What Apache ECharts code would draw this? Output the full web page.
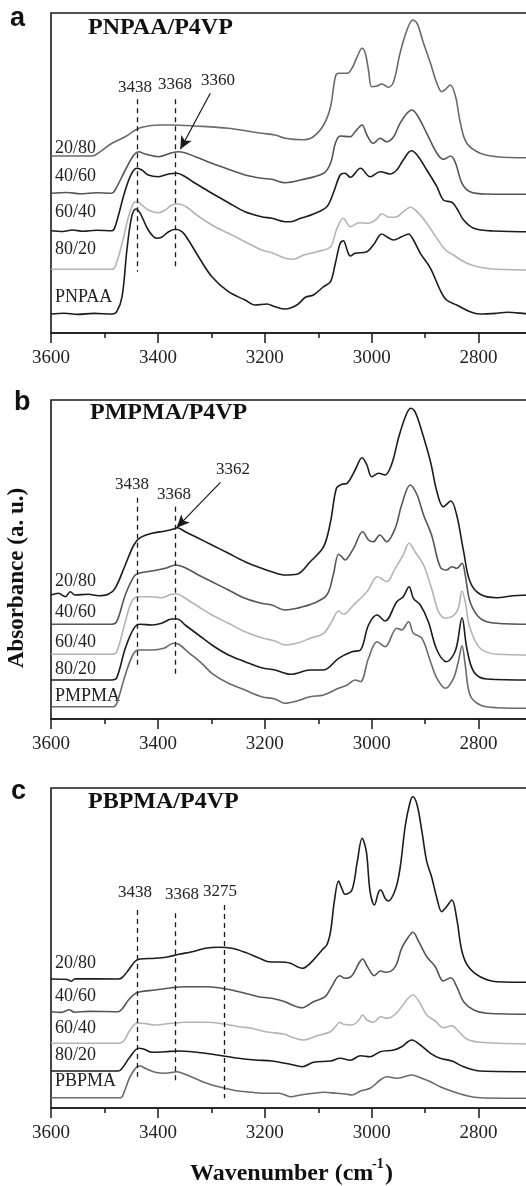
<!DOCTYPE html>
<html>
<head>
<meta charset="utf-8">
<script src="https://cdn.jsdelivr.net/npm/echarts@6/dist/echarts.min.js"></script>
<style>
  html, body { margin: 0; padding: 0; background: #fff; overflow: hidden; }
  /* the plot frames run past the right edge of the page, so the canvas is wider than the view */
  #chart { width: 600px; height: 1186px; }
</style>
</head>
<body>
<div id="chart"></div>
<script>
// FTIR spectra in the O-H / C-H stretching region, three blend systems.
// Each curve: [wavenumber (cm-1), absorbance (a.u., with vertical offset)].

const xTickLabels = [3600, 3400, 3200, 3000, 2800];

// ---- (a) PNPAA/P4VP ----
const a2080 = [[3600,177],[3524,177],[3517,178],[3486,189.7],[3461,196.3],[3442,203],[3430,205.7],[3399,208],[3374,208],[3330,207],[3268,204.7],[3206,199.7],[3181,198],[3162,194.7],[3130,193.2],[3110,196],[3090,208],[3077,226.3],[3068,256.3],[3062,259.7],[3046,259.7],[3037,264.7],[3027,276.3],[3018,284.7],[3012,279.7],[3006,263],[3000,246.3],[2990,247],[2981,249],[2969,245.7],[2959,251.3],[2947,279.7],[2934,303],[2923,313],[2915,309.7],[2903,289.7],[2890,269.7],[2878,249.7],[2869,241.3],[2862,243.7],[2853,248],[2843,236.3],[2834,209.7],[2822,189.7],[2797,179.7],[2766,176.3],[2711,175.3],[2650,175.3]];
const a4060 = [[3600,139.7],[3570,140.5],[3545,139.2],[3515,140.3],[3486,139.7],[3480,143],[3461,163],[3445,178],[3436,181.3],[3424,179],[3399,176.3],[3374,180.3],[3361,181.3],[3330,176.3],[3299,169.7],[3268,163.7],[3237,158],[3206,154.7],[3187,153.7],[3162,150.3],[3133,153],[3090,159.7],[3077,169.7],[3068,189.7],[3059,197],[3040,196.3],[3031,201.3],[3018,208],[3009,198],[2997,189.7],[2984,194.7],[2972,191.3],[2959,196.3],[2947,209.7],[2934,219.7],[2925,223],[2915,218],[2897,199.7],[2878,179.7],[2866,173.7],[2852,177],[2843,169.7],[2831,149.7],[2816,141.3],[2785,139],[2700,138.7],[2650,138.7]];
const a6040 = [[3600,102.3],[3578,101.5],[3560,103],[3540,101.8],[3515,102.8],[3486,102.3],[3480,106.3],[3461,143],[3449,159.7],[3439,164.7],[3430,163],[3418,158],[3399,156.3],[3380,159],[3364,159.7],[3349,156.3],[3330,149.7],[3299,139.7],[3268,130.3],[3237,121.3],[3206,116.3],[3187,114.7],[3162,111.3],[3152,111.3],[3133,114.7],[3109,119],[3084,126.3],[3072,139.7],[3059,158],[3050,159.7],[3040,155.7],[3021,164.7],[3003,156.3],[2984,161.3],[2966,159],[2953,163],[2941,173],[2926,182.3],[2915,178],[2897,163],[2878,146.3],[2866,133],[2850,130.7],[2841,124.7],[2828,113],[2809,104.7],[2772,102],[2700,101.3],[2650,101.3]];
const a8020 = [[3600,63.7],[3486,63.7],[3480,66.3],[3467,89.7],[3455,116.3],[3445,130.3],[3439,131.3],[3430,128],[3418,123],[3399,120.3],[3386,123],[3374,128],[3361,129],[3343,124.7],[3330,119],[3299,108],[3268,99.7],[3237,91.3],[3206,83],[3187,80.3],[3162,74.7],[3146,73.7],[3127,78],[3102,81.3],[3077,86.3],[3066,103],[3053,114.7],[3046,109.7],[3040,106.3],[3024,110.3],[3006,109.7],[2993,113],[2981,119],[2966,115.7],[2953,116.3],[2941,121.3],[2928,125.7],[2915,121.3],[2897,109.7],[2878,94.7],[2862,83],[2847,78],[2822,69.7],[2797,65.7],[2766,63.7],[2700,63],[2650,63]];
const aPNPAA = [[3600,19],[3575,19.8],[3550,18.6],[3520,19.6],[3486,19],[3477,21.3],[3467,36.3],[3458,83],[3449,116.3],[3441,124],[3433,119.7],[3418,103],[3402,94.7],[3393,95.7],[3380,101.3],[3367,103.7],[3355,101.3],[3343,93],[3324,76.3],[3299,56.3],[3268,41.3],[3237,33],[3218,28],[3196,29],[3181,26.3],[3162,24],[3140,28],[3124,35.7],[3109,38],[3090,46.3],[3077,51.3],[3068,69.7],[3059,89.7],[3053,92.3],[3046,83],[3040,77],[3031,79.7],[3009,81.3],[2997,88],[2981,99],[2972,96.3],[2959,93],[2944,96.3],[2931,99],[2922,93],[2909,79.7],[2890,64.7],[2872,43],[2860,33],[2841,28],[2816,21.3],[2797,19],[2766,19.7],[2747,20.7],[2700,19],[2650,19]];

// ---- (b) PMPMA/P4VP ----
const b2080 = [[3600,124],[3586,125.7],[3573,122.3],[3564,127.3],[3555,124],[3530,124.7],[3511,123.3],[3493,124.7],[3480,130.7],[3461,154],[3445,174],[3433,181.3],[3411,185.7],[3386,188],[3371,190],[3364,191.3],[3349,187.3],[3324,180.7],[3299,174],[3268,165.7],[3237,157.3],[3206,150.7],[3187,147.3],[3162,144],[3140,144.7],[3115,157.3],[3090,172.3],[3077,197.3],[3066,230.7],[3056,234.7],[3046,235.7],[3031,249],[3018,261.3],[3009,254],[3000,242.3],[2987,245.7],[2975,244],[2962,255.7],[2950,280.7],[2937,302.3],[2927,310.7],[2919,307.3],[2906,287.3],[2890,257.3],[2878,227.3],[2866,212.3],[2852,218],[2841,204],[2828,167.3],[2816,137.3],[2797,124.7],[2766,121.3],[2735,123.3],[2700,124],[2650,124]];
const b4060 = [[3600,94.7],[3486,94.7],[3477,97.3],[3461,124],[3445,142.3],[3436,145.7],[3411,148],[3386,150.7],[3367,154],[3349,151.3],[3324,144],[3299,137.3],[3268,129],[3237,120.7],[3206,115.7],[3187,114],[3162,109],[3140,110.7],[3109,115.7],[3084,124],[3072,144],[3062,164.7],[3056,162.3],[3050,159],[3034,170.7],[3017,187.3],[3006,179],[2997,177.3],[2985,184],[2972,177.3],[2956,190.7],[2944,214],[2928,234],[2915,224],[2903,204],[2888,184],[2872,152.3],[2860,149],[2850,152.3],[2841,150.7],[2831,155.7],[2825,144],[2816,117.3],[2797,100.7],[2766,95.7],[2700,94.7],[2650,94.7]];
const b6040 = [[3600,64.7],[3486,64.7],[3477,67.3],[3461,97.3],[3449,117.3],[3436,122.3],[3411,122.3],[3393,121.3],[3374,124.7],[3364,125],[3349,120.7],[3324,112.3],[3299,104],[3268,95.7],[3237,87.3],[3206,81.3],[3181,78],[3162,74],[3140,75.7],[3115,80.7],[3090,85.7],[3075,97.3],[3062,108],[3053,104.7],[3034,114],[3009,127.3],[2989,142.3],[2972,137.3],[2956,150.7],[2941,164],[2930,175.7],[2919,167.3],[2903,154],[2888,130.7],[2875,107.3],[2862,100.7],[2847,103.3],[2838,110.7],[2831,128],[2825,117.3],[2816,90.7],[2797,70.7],[2766,64.7],[2700,64],[2650,64]];
const b8020 = [[3600,39],[3486,39],[3477,41.3],[3461,70.7],[3445,90.7],[3433,94.7],[3411,94],[3393,95.7],[3374,100],[3364,100],[3349,94],[3324,84],[3299,74],[3268,64],[3237,57.3],[3206,51.3],[3181,49],[3162,45.7],[3152,44.7],[3115,49],[3090,49],[3062,60.7],[3037,67.3],[3021,69],[3006,94],[2990,104],[2975,98],[2953,117.3],[2941,122.3],[2930,132.3],[2922,120.7],[2909,114],[2894,97.3],[2878,69],[2860,57.3],[2843,69],[2831,101.3],[2822,70.7],[2809,47.3],[2785,40],[2700,39],[2650,39]];
const bPMPMA = [[3600,12.3],[3483,12.3],[3477,15.7],[3461,44],[3447,64],[3436,69],[3411,69],[3389,70.7],[3371,75.7],[3361,74.7],[3343,66.7],[3318,55.7],[3299,45.7],[3268,35.7],[3237,29],[3206,22.3],[3181,20],[3162,15.7],[3140,18],[3115,22.3],[3090,24],[3062,30.7],[3046,34],[3031,39],[3021,37.3],[3006,60.7],[2990,77.3],[2975,72.3],[2953,90.7],[2944,89],[2931,97.3],[2922,85.7],[2906,80.7],[2890,57.3],[2878,40.7],[2862,30.7],[2847,40.7],[2838,57.3],[2831,73.3],[2825,54],[2816,24],[2797,14],[2766,11.3],[2700,10.7],[2650,10.7]];

// ---- (c) PBPMA/P4VP ----
const c2080 = [[3600,129],[3570,128.5],[3562,126.8],[3555,129.3],[3474,129],[3467,130.3],[3455,138],[3442,147],[3433,149],[3405,149.7],[3380,151.3],[3361,153.7],[3336,156.3],[3311,159.7],[3286,160.7],[3262,159.7],[3237,155.7],[3212,150.3],[3193,146.3],[3162,145.7],[3152,144.7],[3130,139.7],[3112,146.3],[3093,158],[3084,163],[3077,176.3],[3070,206.3],[3062,227],[3056,219.7],[3050,213.7],[3037,218],[3027,246.3],[3018,269.7],[3010,256.3],[3003,216.3],[2995,203],[2987,216.3],[2983,218],[2975,209.7],[2969,207],[2956,218],[2947,239.7],[2937,283],[2928,306.3],[2923,311.3],[2915,303],[2906,276.3],[2897,246.3],[2888,231.3],[2878,209.7],[2869,196.3],[2860,201.3],[2850,208],[2841,189.7],[2831,156.3],[2819,141.3],[2797,131.3],[2766,126.3],[2700,125.7],[2650,125.7]];
const c4060 = [[3600,96.3],[3580,95.6],[3566,98.2],[3556,95.8],[3530,96.6],[3474,96.3],[3467,99],[3455,108],[3442,114.7],[3433,116.3],[3405,118],[3374,120.3],[3349,121.3],[3311,121.3],[3286,120.3],[3262,118],[3237,114.7],[3212,111.3],[3187,109.7],[3162,106.3],[3152,103.7],[3130,100.3],[3109,106.3],[3087,111.3],[3075,121.3],[3060,132.3],[3050,129.7],[3037,132.3],[3024,144.7],[3017,149],[3008,141.3],[2995,132.3],[2984,137],[2972,135.7],[2956,141.3],[2944,159.7],[2931,171.3],[2923,175.7],[2912,166.3],[2897,151.3],[2881,141.3],[2866,127],[2852,130.3],[2841,121.3],[2828,106.3],[2809,98],[2785,94.7],[2700,93.7],[2650,93.7]];
const c6040 = [[3600,64.7],[3474,64.7],[3464,67],[3452,78],[3439,84.7],[3430,84.7],[3405,83],[3374,84.7],[3349,85.7],[3311,85.7],[3280,84.3],[3249,81.3],[3224,79.7],[3199,76.3],[3162,73.7],[3152,71.3],[3127,68],[3102,72.3],[3077,76.3],[3068,81.3],[3060,85.7],[3053,83.7],[3037,83],[3024,88],[3017,93],[3009,88],[2997,85.7],[2983,91.3],[2972,89.7],[2956,93.7],[2944,101.3],[2931,110.3],[2923,113],[2912,107],[2897,93],[2881,87],[2866,80.3],[2850,82.3],[2838,77],[2822,69],[2797,65.7],[2700,64],[2650,64]];
const c8020 = [[3600,37],[3474,37],[3467,39.7],[3452,51.3],[3436,59.7],[3427,59],[3411,55.7],[3386,56.3],[3361,57],[3336,56.3],[3311,54.7],[3280,52.3],[3249,49.7],[3218,48],[3187,47],[3162,44.7],[3152,43.7],[3130,41.3],[3109,45.7],[3077,47],[3059,49.7],[3040,47.7],[3021,52.3],[3003,51.3],[2984,56.3],[2959,58],[2944,61.3],[2925,68],[2909,63],[2890,54.7],[2872,49.7],[2850,47],[2828,41.3],[2797,37],[2700,36.3],[2650,36.3]];
const cPBPMA = [[3600,10.3],[3470,10.3],[3464,14.7],[3452,31.3],[3439,41.3],[3433,42],[3424,39.7],[3405,35.7],[3386,34.7],[3364,36.3],[3349,33.7],[3324,28],[3299,23],[3274,19.7],[3249,17],[3224,15.7],[3199,14.7],[3174,14.7],[3162,13],[3152,11.3],[3133,13],[3109,14.7],[3090,15.7],[3066,14.7],[3046,13.7],[3037,13],[3021,17],[3003,19.7],[2984,28],[2972,31.3],[2953,29.7],[2925,33],[2909,30.3],[2890,26.3],[2872,21.3],[2847,16.3],[2822,12.3],[2797,10.3],[2700,9.7],[2650,9.7]];

// Band positions marked with dashed guides: [wavenumber, top, bottom]
const bandsA = [[3438, 233.7, 61.3], [3368, 233.7, 64.7]];
const bandsB = [[3438, 221.3, 54], [3368, 212.3, 44]];
const bandsC = [[3438, 198, 31.3], [3368, 194.7, 26.3], [3275, 203, 9.7]];
// Arrows: [fromWn, fromAbs, toWn, toAbs]
const arrowA = [3302, 239.7, 3358, 183.7];
const arrowB = [3283, 236.7, 3365, 191.3];

const SERIF = '"Liberation Serif", "Times New Roman", serif';
const SANS = '"Liberation Sans", Arial, sans-serif';
const INK = '#1a1a1a';
const DARK = '#1c1c1c', MID = '#555555', GREY = '#6a6a6a', LIGHT = '#b4b4b4';

const panels = [
  { top: 13, height: 320, ymax: 320, bands: bandsA, arrow: arrowA,
    curves: [[a2080, GREY], [a4060, MID], [a6040, DARK], [a8020, LIGHT], [aPNPAA, DARK]] },
  { top: 400, height: 319, ymax: 319, bands: bandsB, arrow: arrowB,
    curves: [[b2080, DARK], [b4060, MID], [b6040, LIGHT], [b8020, DARK], [bPMPMA, GREY]] },
  { top: 788, height: 320, ymax: 320, bands: bandsC, arrow: null,
    curves: [[c2080, DARK], [c4060, MID], [c6040, LIGHT], [c8020, DARK], [cPBPMA, GREY]] }
];

const grids = [], xAxes = [], yAxes = [], series = [];
panels.forEach((p, i) => {
  // axis spans 3600 -> 2600 cm-1; the frame continues past the visible edge
  grids.push({ left: 51, width: 534.5, top: p.top, height: p.height,
    show: true, borderColor: INK, borderWidth: 1.6, backgroundColor: 'transparent' });
  xAxes.push({
    type: 'value', gridIndex: i, inverse: true, min: 2600, max: 3600, interval: 200,
    axisLine: { show: true, onZero: false, lineStyle: { color: INK, width: 1.6 } },
    axisTick: { show: true, inside: false, length: 10, lineStyle: { color: INK, width: 1.5 } },
    minorTick: { show: true, splitNumber: 2, length: 5, lineStyle: { color: INK, width: 1.5 } },
    axisLabel: { show: true, margin: 16, fontFamily: SERIF, fontSize: 19, color: '#222',
      showMinLabel: false, showMaxLabel: true,
      formatter: v => (xTickLabels.includes(v) ? String(v) : '') },
    splitLine: { show: false }, minorSplitLine: { show: false }
  });
  yAxes.push({ type: 'value', gridIndex: i, min: 0, max: p.ymax, show: false });
  p.curves.forEach(([data, color], k) => {
    const s = {
      type: 'line', xAxisIndex: i, yAxisIndex: i, data: data,
      smooth: 0.35, showSymbol: false, symbol: 'none', silent: true,
      lineStyle: { color: color, width: 1.6 }, z: 2
    };
    if (k === p.curves.length - 1) {
      const lines = p.bands.map(([wn, top, bot]) => [
        { coord: [wn, top], symbol: 'none' },
        { coord: [wn, bot], symbol: 'none' }
      ]);
      if (p.arrow) {
        const [x1, y1, x2, y2] = p.arrow;
        lines.push([
          { coord: [x1, y1], symbol: 'none', lineStyle: { type: 'solid', width: 1.2, color: INK } },
          { coord: [x2, y2], symbol: 'arrow', symbolSize: [9, 13] }
        ]);
      }
      s.markLine = {
        silent: true, animation: false, symbol: ['none', 'none'],
        label: { show: false },
        lineStyle: { color: INK, width: 1.3, type: [5, 4] },
        emphasis: { disabled: true },
        data: lines
      };
    }
    series.push(s);
  });
});

function text(x, y, str, font, extra) {
  return Object.assign({ type: 'text', x: x, y: y, silent: true,
    style: Object.assign({ text: str, font: font, fill: '#222', align: 'left', verticalAlign: 'middle' }, extra || {}) });
}
const tFont = 'bold 24px ' + SERIF;
const lFont = '18px ' + SERIF;
const nFont = '17px ' + SERIF;
const pFont = 'bold 27px ' + SANS;

const graphics = [
  // panel letters
  text(10, 19, 'a', pFont, { fill: '#111' }),
  text(14, 403, 'b', pFont, { fill: '#111' }),
  text(11, 792, 'c', pFont, { fill: '#111' }),
  // panel titles
  text(88, 28, 'PNPAA/P4VP', tFont, { fill: '#111' }),
  text(90, 413, 'PMPMA/P4VP', tFont, { fill: '#111' }),
  text(88, 802, 'PBPMA/P4VP', tFont, { fill: '#111' }),
  // composition labels
  text(55, 148, '20/80', lFont), text(55, 176, '40/60', lFont), text(55, 212, '60/40', lFont),
  text(55, 249, '80/20', lFont), text(55, 297, 'PNPAA', lFont),
  text(55, 581, '20/80', lFont), text(55, 612, '40/60', lFont), text(55, 642, '60/40', lFont),
  text(55, 669, '80/20', lFont), text(55, 696, 'PMPMA', lFont),
  text(55, 963, '20/80', lFont), text(55, 996, '40/60', lFont), text(55, 1028, '60/40', lFont),
  text(55, 1055, '80/20', lFont), text(55, 1081, 'PBPMA', lFont),
  // band annotations
  text(135, 88, '3438', nFont, { align: 'center' }),
  text(175, 85, '3368', nFont, { align: 'center' }),
  text(218, 81, '3360', nFont, { align: 'center' }),
  text(132, 485, '3438', nFont, { align: 'center' }),
  text(174, 495, '3368', nFont, { align: 'center' }),
  text(233, 470, '3362', nFont, { align: 'center' }),
  text(135, 893, '3438', nFont, { align: 'center' }),
  text(182, 895, '3368', nFont, { align: 'center' }),
  text(220, 892, '3275', nFont, { align: 'center' }),
  // axis titles
  text(17, 578, 'Absorbance (a. u.)', 'bold 23px ' + SERIF,
    { align: 'center', fill: '#111' }),
  text(190, 1174, 'Wavenumber (cm', 'bold 24px ' + SERIF, { fill: '#111' }),
  text(372, 1164, '-1', 'bold 14px ' + SERIF, { fill: '#111' }),
  text(385, 1174, ')', 'bold 24px ' + SERIF, { fill: '#111' })
];
graphics[graphics.length - 4].rotation = Math.PI / 2;

const chart = echarts.init(document.getElementById('chart'), null, { renderer: 'canvas' });
chart.setOption({
  animation: false,
  backgroundColor: '#ffffff',
  grid: grids,
  xAxis: xAxes,
  yAxis: yAxes,
  series: series,
  graphic: graphics
});
</script>
</body>
</html>
